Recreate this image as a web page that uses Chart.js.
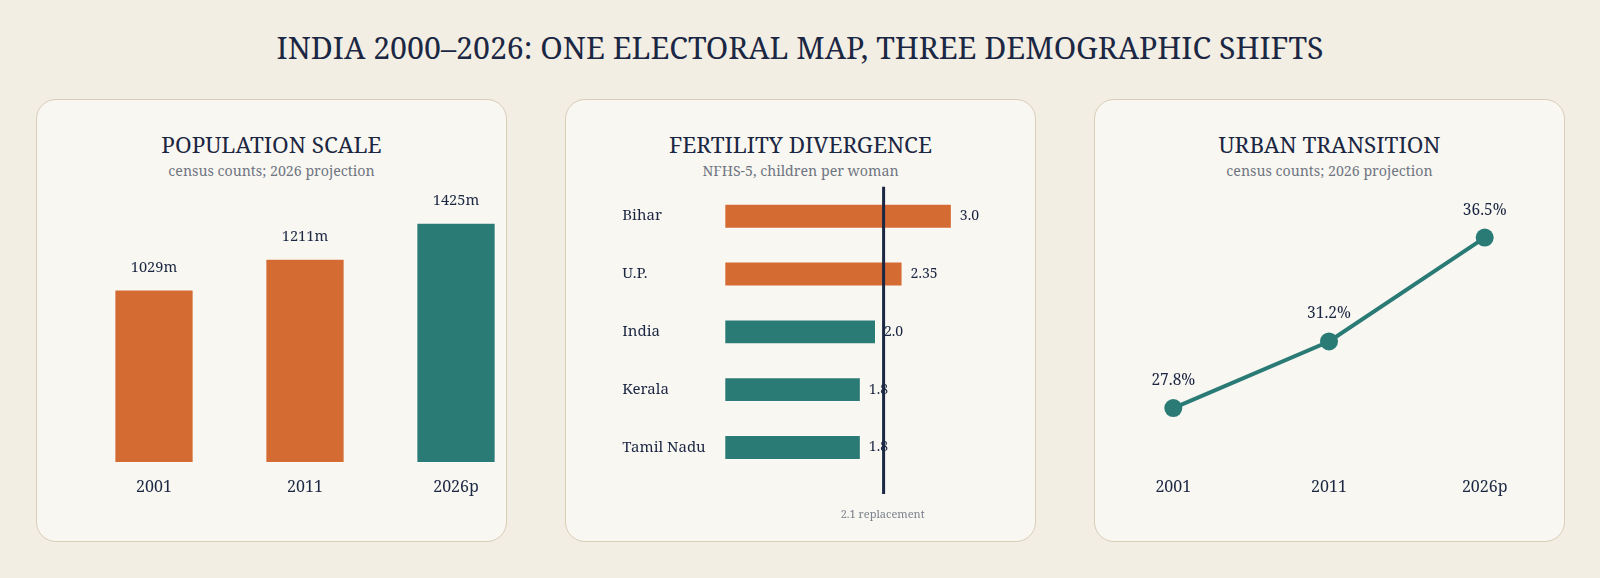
<!DOCTYPE html>
<html>
<head>
<meta charset="utf-8">
<script src="https://cdn.jsdelivr.net/npm/chart.js@4.4.1/dist/chart.umd.min.js"></script>
<style>
  html, body { margin:0; padding:0; }
  body { width:1600px; height:578px; background:#f2eee4; position:relative; overflow:hidden;
         font-family:'Noto Serif','Droid Serif','DejaVu Serif',serif; color:#1b2743; }
  #title { position:absolute; left:0; top:28px; width:1600px; text-align:center; font-size:30.3px; line-height:40px; color:#1b2743; }
  .panel { position:absolute; top:99px; width:469px; height:441px; background:#f9f7f1; border:1.5px solid #d8cdb6; border-radius:20px; }
  .ptitle { position:absolute; top:131px; width:471px; text-align:center; font-size:22.5px; line-height:28px; color:#1b2743; }
  .psub { position:absolute; top:161px; width:471px; text-align:center; font-size:14.2px; line-height:20px; color:#6f7582; }
</style>
</head>
<body>
<div id="title">INDIA 2000–2026: ONE ELECTORAL MAP, THREE DEMOGRAPHIC SHIFTS</div>

<div class="panel" style="left:36px"></div>
<div class="panel" style="left:565px"></div>
<div class="panel" style="left:1094px"></div>

<div class="ptitle" style="left:36px">POPULATION SCALE</div>
<div class="psub" style="left:36px">census counts; 2026 projection</div>
<div class="ptitle" style="left:565px">FERTILITY DIVERGENCE</div>
<div class="psub" style="left:565px">NFHS-5, children per woman</div>
<div class="ptitle" style="left:1094px">URBAN TRANSITION</div>
<div class="psub" style="left:1094px">census counts; 2026 projection</div>

<div style="position:absolute;left:36px;top:99px;width:471px;height:443px"><canvas id="c1" width="471" height="443"></canvas></div>
<div style="position:absolute;left:565px;top:99px;width:471px;height:443px"><canvas id="c2" width="471" height="443"></canvas></div>
<div style="position:absolute;left:1094px;top:99px;width:471px;height:443px"><canvas id="c3" width="471" height="443"></canvas></div>

<script>
// ---- data ----
const popYears = ['2001', '2011', '2026p'];
const popMillions = [1029, 1211, 1425];

const tfrStates = ['Bihar', 'U.P.', 'India', 'Kerala', 'Tamil Nadu'];
const tfrValues = [3.0, 2.35, 2.0, 1.8, 1.8];
const replacementRate = 2.1;

const urbanYears = ['2001', '2011', '2026p'];
const urbanPct = [27.8, 31.2, 36.5];

// ---- style ----
const ORANGE = '#d46b32';
const TEAL = '#2a7a76';
const NAVY = '#1b2743';
const FONT = "'Noto Serif','Droid Serif','DejaVu Serif',serif";
const popColors = [ORANGE, ORANGE, TEAL];
const tfrColors = [ORANGE, ORANGE, TEAL, TEAL, TEAL];

Chart.defaults.font.family = FONT;
Chart.defaults.color = NAVY;
Chart.defaults.animation = false;
Chart.defaults.responsive = false;
Chart.defaults.plugins.legend.display = false;
Chart.defaults.plugins.tooltip.enabled = false;

const xFixedHeight = (h) => (s) => { s.height = h; };

// value labels plugin
function valueLabels(fmt, size, pos) {
  return {
    id: 'vl',
    afterDatasetsDraw(chart) {
      const ctx = chart.ctx;
      const meta = chart.getDatasetMeta(0);
      ctx.save();
      ctx.fillStyle = NAVY;
      ctx.font = size + 'px ' + FONT;
      meta.data.forEach((el, i) => {
        const v = chart.data.datasets[0].data[i];
        pos(ctx, el, fmt(v));
      });
      ctx.restore();
    }
  };
}

// Chart 1: population bars
new Chart(document.getElementById('c1'), {
  type: 'bar',
  data: { labels: popYears, datasets: [{ data: popMillions, backgroundColor: popColors,
          borderColor: 'rgba(255,255,255,0.5)', borderWidth: 1, borderSkipped: false,
          barPercentage: 0.525, categoryPercentage: 1, clip: false }] },
  options: {
    layout: { padding: { left: 118, right: 51, top: 77.4, bottom: 0 } },
    scales: {
      x: { offset: false, grid: { display: false, drawTicks: false }, border: { display: false },
           ticks: { font: { size: 16 }, color: NAVY, padding: 14.5 }, afterFit: xFixedHeight(79) },
      y: { display: false, min: 0, max: 1700 }
    }
  },
  plugins: [valueLabels(v => v + 'm', 14.6, (ctx, el, t) => {
    ctx.textAlign = 'center'; ctx.textBaseline = 'middle';
    ctx.fillText(t, el.x, el.y - 22);
  })]
});

// Chart 2: fertility horizontal bars
const refLine = {
  id: 'ref',
  afterDatasetsDraw(chart) {
    const ctx = chart.ctx;
    const x = chart.scales.x.getPixelForValue(replacementRate);
    ctx.save();
    ctx.strokeStyle = NAVY; ctx.lineWidth = 3;
    ctx.beginPath(); ctx.moveTo(x, 87.7); ctx.lineTo(x, 395); ctx.stroke();
    ctx.fillStyle = '#7a808c';
    ctx.font = '11px ' + FONT;
    ctx.textAlign = 'center'; ctx.textBaseline = 'middle';
    ctx.fillText(replacementRate + ' replacement', x - 1, 416);
    ctx.restore();
  }
};
new Chart(document.getElementById('c2'), {
  type: 'bar',
  data: { labels: tfrStates, datasets: [{ data: tfrValues, backgroundColor: tfrColors,
          borderColor: 'rgba(255,255,255,0.5)', borderWidth: 1, borderSkipped: false,
          barPercentage: 0.43, categoryPercentage: 1 }] },
  options: {
    indexAxis: 'y',
    layout: { padding: { left: 57.3, right: 46.2, top: 88.3, bottom: 443 - 377.4 } },
    scales: {
      x: { display: false, min: 0, max: 3.5 },
      y: { grid: { display: false, drawTicks: false }, border: { display: false },
           ticks: { font: { size: 15 }, color: NAVY, padding: 18, crossAlign: 'far' },
           afterFit: (s) => { s.width = 102; } }
    }
  },
  plugins: [valueLabels(v => (Math.round(v * 100) % 10 ? v.toFixed(2) : v.toFixed(1)), 14, (ctx, el, t) => {
    ctx.textAlign = 'left'; ctx.textBaseline = 'middle';
    ctx.fillText(t, el.x + 8, el.y);
  }), refLine]
});

// Chart 3: urban line
new Chart(document.getElementById('c3'), {
  type: 'line',
  data: { labels: urbanYears, datasets: [{ data: urbanPct, borderColor: TEAL, borderWidth: 4,
          pointBackgroundColor: TEAL, pointBorderColor: TEAL, pointRadius: 9, pointBorderWidth: 0,
          tension: 0, clip: false }] },
  options: {
    layout: { padding: { left: 79.3, right: 80.3, top: 70, bottom: 0 } },
    scales: {
      x: { offset: false, grid: { display: false, drawTicks: false }, border: { display: false },
           ticks: { font: { size: 16 }, color: NAVY, padding: 14.5 }, afterFit: xFixedHeight(79) },
      y: { display: false, min: 25, max: 40 }
    }
  },
  plugins: [valueLabels(v => v.toFixed(1) + '%', 15.5, (ctx, el, t) => {
    ctx.textAlign = 'center'; ctx.textBaseline = 'middle';
    ctx.fillText(t, el.x, el.y - 27.5);
  })]
});
</script>
</body>
</html>
